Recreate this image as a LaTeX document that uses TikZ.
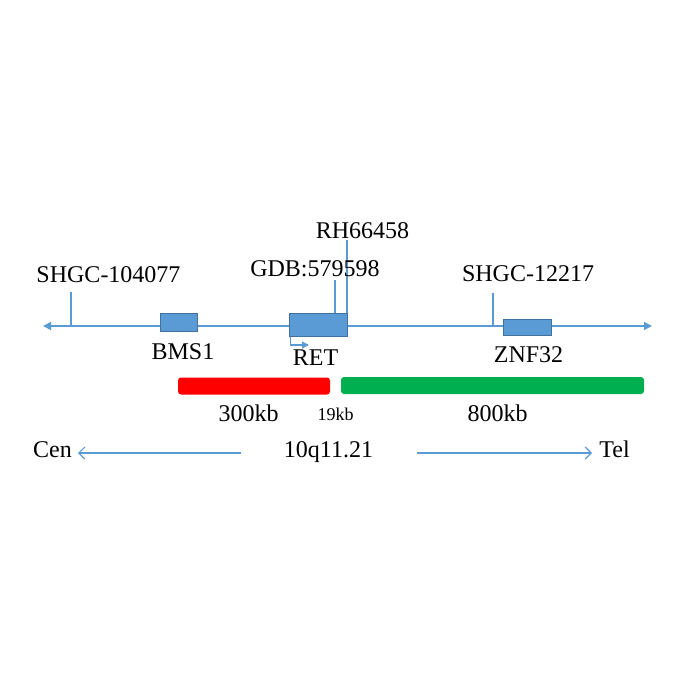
\documentclass[tikz,border=0pt]{standalone}
\usepackage{fontspec}
\setmainfont{Liberation Serif}
\usetikzlibrary{arrows.meta,positioning}
\definecolor{chrblue}{RGB}{91,155,213}
\definecolor{chredge}{RGB}{65,113,156}
\definecolor{barred}{RGB}{255,0,0}
\definecolor{bargreen}{RGB}{0,176,80}

\begin{document}
\begin{tikzpicture}[x=1pt,y=-1pt,font=\fontsize{24}{28}\selectfont,
    gene/.style={draw=chredge,fill=chrblue,line width=1pt,inner sep=0pt},
    lbl/.style={inner sep=0pt,anchor=base},
    span/.style={rounded corners=3pt,inner sep=0pt,minimum height=17pt},
    tick/.style={chrblue,line width=1.2pt}]
  \useasboundingbox (0,0) rectangle (700,700);
  % chromosome
  \coordinate (cl) at (43,326);
  \coordinate (cr) at (652,326);
  \draw[chrblue,line width=1.5pt,{Triangle[length=8pt,width=8pt]}-{Triangle[length=8pt,width=8pt]}] (cl) -- (cr);
  \node[gene,minimum width=37pt,minimum height=18pt] (bms1) at (178.5,322) {};
  \node[gene,minimum width=58pt,minimum height=23pt] (ret) at (318,324.5) {};
  \node[gene,minimum width=48pt,minimum height=16pt] (znf) at (527,327) {};
  \node[lbl] (bms1l) at (183,359) {BMS1};
  \node[lbl] (retl) at (315.5,365) {RET};
  \node[lbl] (znfl) at (528.5,362) {ZNF32};
  \coordinate (tss) at (309,345);
  \draw[chrblue,line width=1.2pt,-{Triangle[length=7pt,width=7pt]}] ([xshift=2pt]ret.south west) |- (tss);
  % markers
  \coordinate (m1) at (71,292);
  \coordinate (m2) at (335,280);
  \coordinate (m3) at (347,240);
  \coordinate (m4) at (493,293);
  \draw[tick] (m1) -- (m1 |- cl);
  \draw[tick] (m2) -- (m2 |- ret.north);
  \draw[tick] (m3) -- (m3 |- ret.north);
  \draw[tick] (m4) -- (m4 |- cr);
  \node[lbl] (m1l) at (108.5,282) {SHGC-104077};
  \node[lbl] (m2l) at (315,276) {GDB:579598};
  \node[lbl] (m3l) at (362.5,239) {RH66458};
  \node[lbl] (m4l) at (528,281) {SHGC-12217};
  % distances
  \node[span,fill=barred,minimum width=152pt] (b300) at (254,386) {};
  \node[span,fill=bargreen,minimum width=303pt] (b800) at (492.5,385.5) {};
  \node[lbl] (d300) at (248.5,421) {300kb};
  \node[lbl,font=\fontsize{18}{20}\selectfont] (d19) at (335.5,420) {19kb};
  \node[lbl] (d800) at (497.5,421) {800kb};
  % orientation
  \node[lbl] (cen) at (52.5,457) {Cen};
  \node[lbl] (band) at (328.5,457) {10q11.21};
  \node[lbl] (tel) at (614.5,457) {Tel};
  \coordinate (ca) at (241,453);
  \coordinate (cb) at (78,453);
  \coordinate (ta) at (417,453);
  \coordinate (tb) at (592,453);
  \draw[chrblue,line width=1.2pt,-{Straight Barb[length=6pt,width=12pt]}] (ca) -- (cb);
  \draw[chrblue,line width=1.2pt,-{Straight Barb[length=6pt,width=12pt]}] (ta) -- (tb);
\end{tikzpicture}
\end{document}
